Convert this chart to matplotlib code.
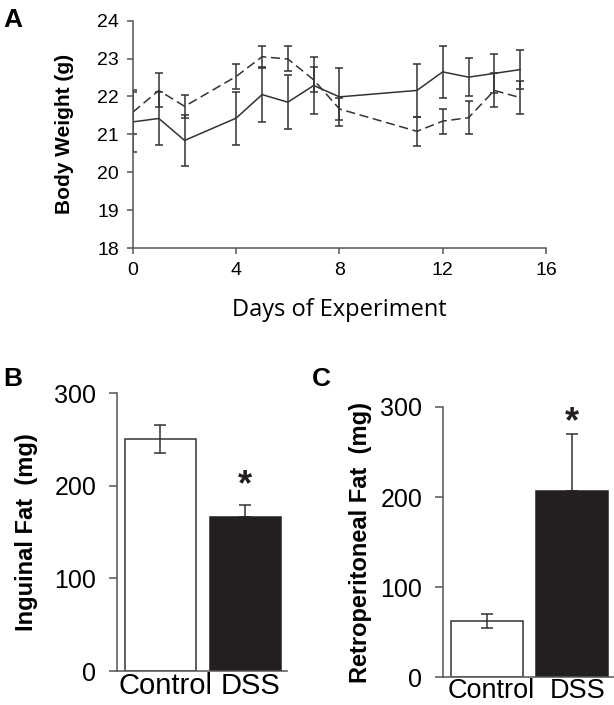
import numpy as np
import matplotlib
matplotlib.use("Agg")
from matplotlib import pyplot as plt

# panel A: body weight over days, two groups (solid / dashed line)
days = [0, 1, 2, 4, 5, 6, 7, 8, 11, 12, 13, 14, 15]
solid_mean = [21.33, 21.42, 20.84, 21.43, 22.05, 21.85, 22.29, 21.99, 22.16, 22.65, 22.51, 22.61, 22.71]
solid_err = [0.79, 0.69, 0.67, 0.70, 0.72, 0.72, 0.75, 0.76, 0.71, 0.68, 0.50, 0.52, 0.52]
dashed_mean = [21.59, 22.16, 21.74, 22.53, 23.05, 22.99, 22.44, 21.67, 21.08, 21.35, 21.44, 22.16, 21.97]
dashed_err = [0.58, 0.45, 0.31, 0.34, 0.29, 0.33, 0.33, 0.28, 0.38, 0.33, 0.44, 0.45, 0.43]

# panels B and C: fat pads
groups = ["Control", "DSS"]
inguinal = [250, 166]
inguinal_err = [15, 13]
retro = [62, 207]
retro_err = [8, 63]

line_col = "#333333"
axis_col = "#555555"
dss_col = "#231f20"

fig = plt.figure(figsize=(6.14, 7.05), dpi=100)

# ---- panel A
axA = fig.add_axes([0.2166, 0.6482, 0.6726, 0.3224])
axA.errorbar(days, solid_mean, yerr=solid_err, color=line_col, lw=1.1, capsize=3, elinewidth=1.1, capthick=1.1)
eb = axA.errorbar(days, dashed_mean, yerr=dashed_err, color=line_col, lw=1.1, capsize=3, elinewidth=1.1, capthick=1.1)
eb[0].set_dashes([6, 3])
axA.set_xlim(0, 16)
axA.set_ylim(18, 24)
axA.set_xticks([0, 4, 8, 12, 16])
axA.set_yticks([18, 19, 20, 21, 22, 23, 24])
for s in ["top", "right"]:
	axA.spines[s].set_visible(False)
for s in ["left", "bottom"]:
	axA.spines[s].set_color(axis_col)
	axA.spines[s].set_linewidth(1.1)
axA.tick_params(direction="out", length=4, width=1.1, color=axis_col, labelsize=14, pad=6)
for lab in axA.get_xticklabels() + axA.get_yticklabels():
	lab.set_family("Liberation Sans")
axA.set_xlabel("Days of Experiment", fontsize=17, family="Open Sans", labelpad=14)
axA.set_ylabel("Body Weight (g)", fontsize=15, family="Liberation Sans", fontweight="bold", labelpad=17)
fig.text(0.006, 0.961, "A", fontsize=19, fontweight="bold", family="Liberation Sans")

# ---- bar panels
def bar_panel(rect, vals, errs, ylabel, letter, letter_pos, star_y, xfs, ylpad):
	ax = fig.add_axes(rect)
	x = np.arange(len(groups))
	ax.bar(x, vals, width=0.84, color=["white", dss_col], edgecolor=[line_col, dss_col], linewidth=1.1, zorder=2)
	ax.errorbar(x[0], vals[0], yerr=errs[0], color=line_col, capsize=4, elinewidth=1.1, capthick=1.1, zorder=3)
	ax.errorbar(x[1], vals[1], yerr=[[0], [errs[1]]], color=line_col, capsize=4, elinewidth=1.1, capthick=1.1, zorder=1)
	ax.set_xlim(-0.51, 1.49)
	ax.set_ylim(0, 300)
	ax.set_yticks([0, 100, 200, 300])
	ax.set_xticks(x + 0.06)
	ax.set_xticklabels(groups)
	for s in ["top", "right"]:
		ax.spines[s].set_visible(False)
	for s in ["left", "bottom"]:
		ax.spines[s].set_color(axis_col)
		ax.spines[s].set_linewidth(1.1)
	ax.tick_params(axis="y", direction="out", length=6, width=1.1, color=axis_col, labelsize=18, pad=9)
	ax.tick_params(axis="x", length=0, labelsize=xfs, pad=1)
	for lab in ax.get_xticklabels() + ax.get_yticklabels():
		lab.set_family("Liberation Sans")
	ax.set_ylabel(ylabel, fontsize=17, family="Liberation Sans", fontweight="bold", labelpad=ylpad)
	ax.text(x[1], star_y, "*", ha="center", va="center", fontsize=26, fontweight="bold", family="Liberation Sans", color=dss_col)
	fig.text(letter_pos[0], letter_pos[1], letter, fontsize=19, fontweight="bold", family="Liberation Sans")
	return ax

bar_panel([0.1906, 0.0482, 0.2769, 0.3943], inguinal, inguinal_err, "Inguinal Fat  (mg)", "B", (0.006, 0.453), 200, 21, 12)
bar_panel([0.7215, 0.0397, 0.2785, 0.383], retro, retro_err, "Retroperitoneal Fat  (mg)", "C", (0.508, 0.453), 283, 19.5, 6)

plt.savefig("out.png", dpi=100)
